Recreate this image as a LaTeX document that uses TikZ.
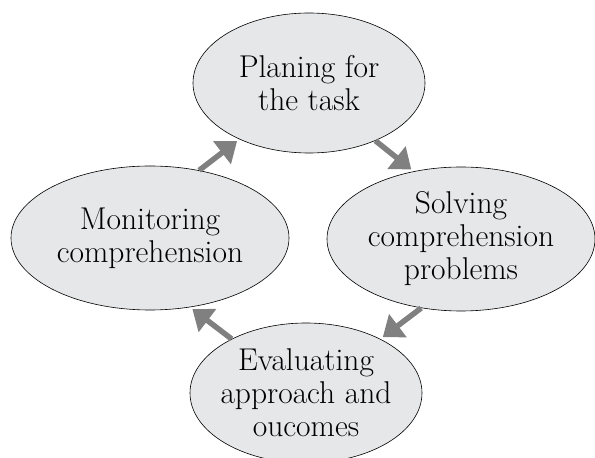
\documentclass[tikz,border=0pt]{standalone}
\usepackage{fontspec}
\usepackage{xcolor}
\usetikzlibrary{shapes.geometric, arrows.meta}
\definecolor{ovalgray}{HTML}{E6E7E8}
\definecolor{arrowgray}{HTML}{808080}
\tikzstyle{stage} = [ellipse, inner sep=0pt, text centered, draw=black, line width=0.6pt, fill=ovalgray, font=\fontsize{31.5}{33}\selectfont]
\tikzstyle{arrow} = [color=arrowgray, line width=5.5pt, -{Triangle[length=19pt,width=28pt]}, shorten >=3pt]

\begin{document}
\begin{tikzpicture}[x=1pt, y=1pt]
        \useasboundingbox (0,0) rectangle (595,458);

        \node (plan) [stage, minimum width=232pt, minimum height=140pt, align=center] at (309,375)
        {Planing for\\ the task};
        \node (monitor) [stage, minimum width=278pt, minimum height=144pt, align=center] at (150,220)
        {Monitoring\\ comprehension};
        \node (solve) [stage, minimum width=268pt, minimum height=144pt, align=center] at (461,219)
        {Solving\\ comprehension\\ problems};
        \node (evaluate) [stage, inner xsep=-10pt, minimum width=232pt, minimum height=140pt, align=center] at (306,65)
        {Evaluating\\ approach and\\ oucomes};

        \draw [arrow] (monitor.54) -- (plan.219);
        \draw [arrow] (plan.319) -- (solve.125);
        \draw [arrow] (solve.240) -- (evaluate.36);
        \draw [arrow] (evaluate.144) -- (monitor.300);

    \end{tikzpicture}
\end{document}
